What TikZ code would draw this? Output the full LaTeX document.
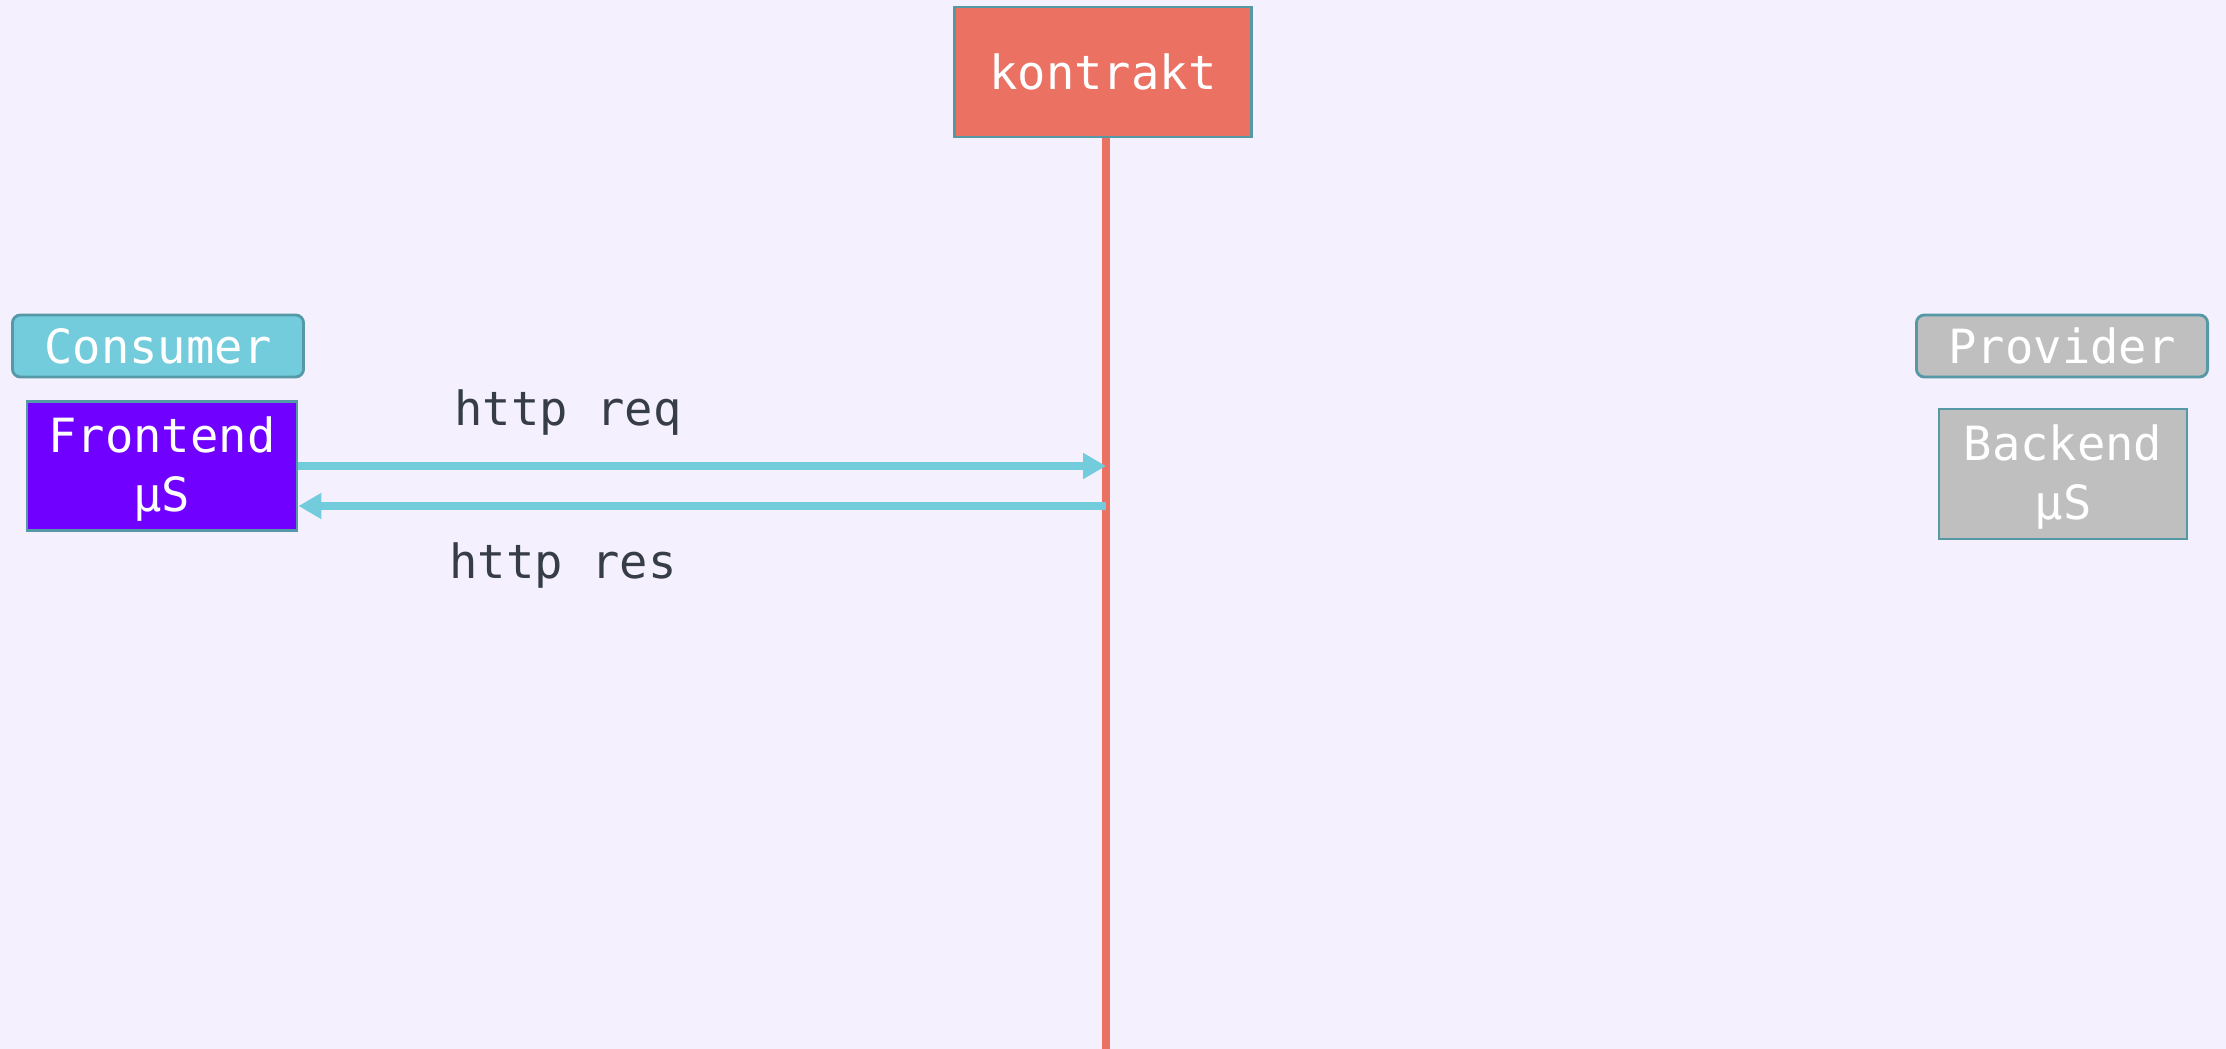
\documentclass[tikz,border=0pt]{standalone}
\usepackage{fontspec}
\newfontfamily\diagfont{DejaVu Sans Mono}
\usetikzlibrary{
    arrows.meta,
    positioning
}
\definecolor{canvas}{HTML}{F4F0FE}
\definecolor{salmon}{HTML}{EB7163}
\definecolor{edgeteal}{HTML}{5599A6}
\definecolor{sky}{HTML}{72CCDC}
\definecolor{frontviolet}{HTML}{7000FF}
\definecolor{greybox}{HTML}{BFBFBF}
\definecolor{inkgrey}{HTML}{363D46}

\begin{document}
\begin{tikzpicture}[x=0.01cm, y=-0.01cm,
    font=\diagfont\fontsize{13.4}{16.8}\selectfont,
    box/.style={draw=edgeteal, line width=0.8pt, text=white, align=center, inner sep=0pt},
    tag/.style={box, rounded corners=0.08cm, minimum width=2.91cm, minimum height=0.62cm},
    msg/.style={sky, line width=2pt, -{Triangle[length=6.5pt,width=7pt]}},
    lbl/.style={text=inkgrey, anchor=base}]
    \fill[canvas] (0,0) rectangle (2226,1049);
    \useasboundingbox (0,0) rectangle (2226,1049);

    % contract lifeline
    \coordinate (lifeend) at (1106,1049);
    \node [box, fill=salmon, minimum width=2.97cm, minimum height=1.3cm] (kontrakt) at (1103,72) {kontrakt};
    \draw [salmon, line width=2pt] (kontrakt.south -| lifeend) -- (lifeend);

    % consumer side
    \node [tag, fill=sky] (consumer) at (158,346) {Consumer};
    \node [box, fill=frontviolet, minimum width=2.7cm, minimum height=1.29cm] (frontend) at (162,466) {\rule{0pt}{12pt}Frontend\\μS};

    % provider side
    \node [tag, fill=greybox] (provider) at (2062,346) {Provider};
    \node [box, fill=greybox, minimum width=2.48cm, minimum height=1.3cm] (backend) at (2063,474) {\rule{0pt}{12pt}Backend\\μS};

    % request / response
    \coordinate (reqend) at (1106,466);
    \coordinate (resstart) at (1106,506);
    \draw [msg] (frontend.east |- reqend) -- (reqend);
    \draw [msg] (resstart) -- (frontend.east |- resstart);
    \node [lbl] (reqlbl) at (568,426) {http req};
    \node [lbl] (reslbl) at (563,579) {http res};
\end{tikzpicture}
\end{document}
